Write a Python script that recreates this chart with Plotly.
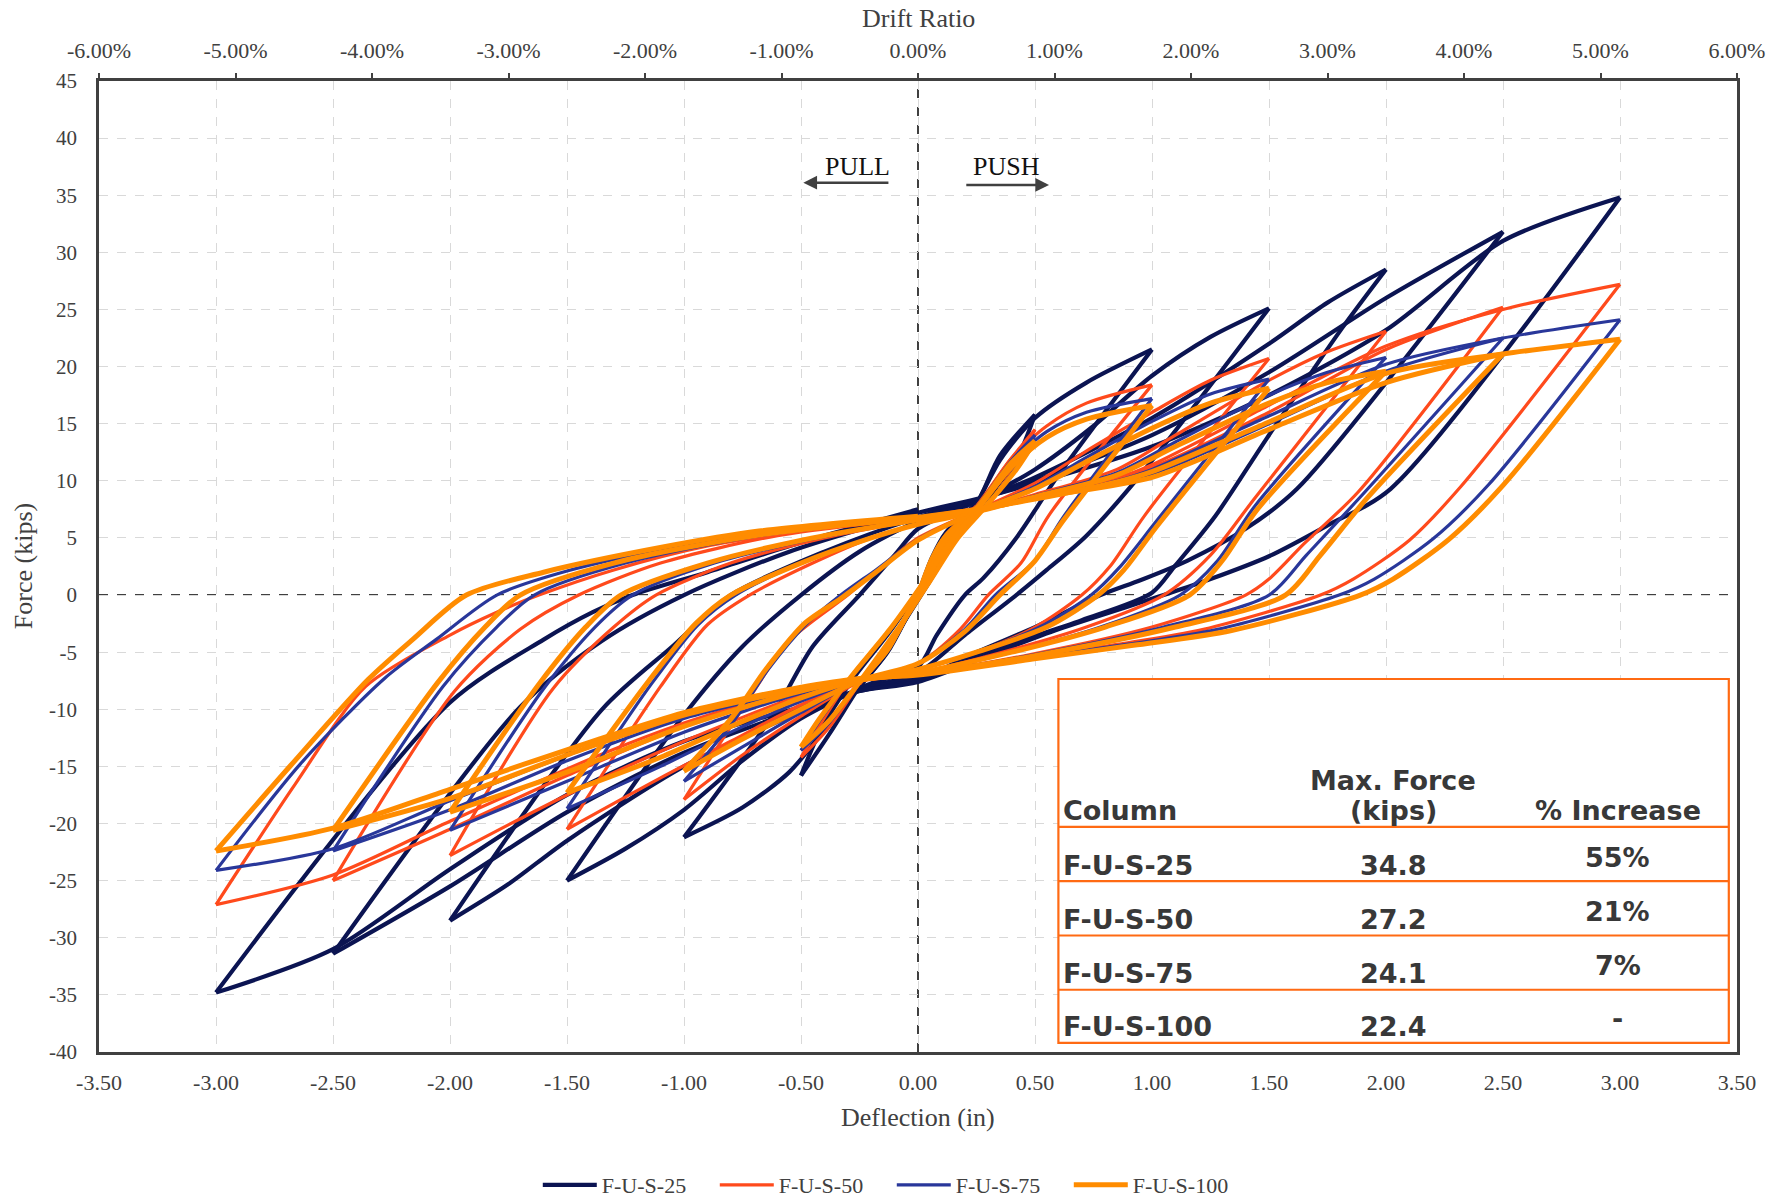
import plotly.graph_objects as go

# ---------------- data (deflection in, force kips) ----------------
series_names = ["F-U-S-25", "F-U-S-50", "F-U-S-75", "F-U-S-100"]
series_colors = ["#0B1452", "#FF4A1C", "#29379A", "#FF8C00"]
series_widths = [4.2, 3.2, 3.2, 5.0]

fus25_pts = [
    [0, 0], [0.06, 3.3], [0.12, 5.5], [0.25, 8.0], [0.15, 5.5], [0.05, 2.0], [-0.05, -2.0], [-0.13, -5.0], [-0.25, -8.0],
    [-0.14, -5.2], [-0.04, -1.6], [0.05, 2.2], [0.14, 5.6], [0.25, 8.0],
    [0.35, 12.2], [0.5, 15.8], [0.42, 11.8], [0.3, 8.6], [0.17, 5.2], [0.05, 1.2], [-0.08, -3.0], [-0.25, -8.0],
    [-0.38, -12.2], [-0.5, -15.8], [-0.42, -12.0], [-0.28, -7.4], [-0.12, -3.2], [0.02, 1.0], [0.15, 5.2], [0.25, 8.0],
    [0.35, 11.8], [0.5, 15.5], [0.72, 18.6], [1.0, 21.5], [0.6, 10.5], [0.42, 5.0], [0.28, 1.5], [0.2, 0], [0.08, -3.5], [0, -6.3], [-0.25, -8.2],
    [-0.4, -11.8], [-0.55, -15.5], [-0.75, -18.6], [-1.0, -21.2], [-0.62, -10.5], [-0.45, -4.5], [-0.25, 0], [-0.1, 3.5], [0, 5.8], [0.25, 8.2],
    [0.5, 11.0], [0.75, 14.8], [1.0, 19.2], [1.25, 22.6], [1.5, 25.1], [0.95, 10.5], [0.72, 5.2], [0.55, 2.2], [0.42, 0], [0.2, -3.5], [0, -6.8], [-0.25, -8.3],
    [-0.5, -10.8], [-0.75, -14.5], [-1.0, -18.8], [-1.25, -22.2], [-1.5, -25.0], [-1.0, -10.5], [-0.75, -4.5], [-0.5, 0], [-0.25, 3.8], [0, 6.5], [0.25, 8.3],
    [0.5, 10.3], [1.0, 15.5], [1.5, 22.0], [1.75, 25.6], [2.0, 28.5], [1.81, 23.3], [1.49, 13.7], [1.27, 6.9], [1.1, 2.6], [1.0, 0.2], [0.7, -2.2], [0.35, -4.6], [0, -7.2], [-0.25, -8.3],
    [-0.5, -10.2], [-1.0, -15.0], [-1.5, -21.5], [-1.75, -25.3], [-2.0, -28.5], [-1.35, -10.0], [-1.05, -4.5], [-0.8, 0], [-0.4, 3.8], [0, 6.8], [0.25, 8.3],
    [0.5, 10.0], [1.0, 14.0], [1.5, 19.5], [2.0, 26.0], [2.5, 31.8], [1.62, 9.3], [1.4, 5.8], [1.15, 3.0], [0.95, 1.3], [0.78, 0], [0.5, -2.8], [0.25, -5.0], [0, -7.4], [-0.25, -8.4],
    [-0.5, -10.0], [-1.0, -13.8], [-1.5, -19.0], [-2.0, -25.5], [-2.5, -31.4], [-1.7, -9.8], [-1.35, -4.0], [-1.0, 0], [-0.55, 3.8], [0, 7.2], [0.25, 8.4],
    [0.5, 9.8], [1.0, 13.0], [1.5, 17.5], [2.0, 23.2], [2.5, 31.0], [3.0, 34.8], [2.02, 9.3], [1.75, 6.1], [1.5, 3.4], [1.25, 1.4], [1.05, 0], [0.6, -3.0], [0.3, -5.3], [0, -7.6], [-0.25, -8.4],
    [-0.5, -9.8], [-1.0, -12.8], [-1.5, -17.5], [-2.0, -24.0], [-2.5, -31.0], [-3.0, -34.8], [-2.0, -9.4], [-1.6, -3.9], [-1.39, -1.5], [-1.22, 0], [-0.9, 2.0], [-0.5, 4.6], [0, 7.5],
]

fus50_pts = [
    [0, 0], [0.06, 3.2], [0.12, 5.3], [0.25, 7.8], [0.15, 5.3], [0.05, 2.0], [-0.05, -1.8], [-0.13, -4.8], [-0.25, -7.8],
    [-0.14, -5.0], [-0.04, -1.5], [0.05, 2.2], [0.14, 5.4], [0.25, 7.8],
    [0.4, 12.0], [0.5, 14.5], [0.42, 11.4], [0.3, 8.0], [0.17, 5.0], [0.05, 1.2], [-0.08, -2.8], [-0.25, -7.7],
    [-0.38, -11.6], [-0.5, -14.2], [-0.42, -11.4], [-0.28, -7.0], [-0.12, -3.0], [0.02, 1.0], [0.15, 5.0], [0.25, 7.6],
    [0.4, 12.0], [0.55, 14.8], [0.72, 16.8], [1.0, 18.4], [0.56, 7.0], [0.44, 2.8], [0.3, 0], [0.18, -3.0], [0, -6.0], [-0.25, -7.6],
    [-0.5, -10.6], [-0.75, -14.0], [-1.0, -17.9], [-0.72, -9.0], [-0.55, -4.0], [-0.3, 0], [-0.16, 2.4], [0, 5.0], [0.25, 7.4],
    [0.5, 9.8], [0.75, 13.0], [1.0, 16.0], [1.25, 18.8], [1.5, 20.7], [0.97, 7.0], [0.82, 2.5], [0.7, 0], [0.5, -2.8], [0.25, -5.0], [0, -6.5], [-0.25, -7.5],
    [-0.5, -9.6], [-0.8, -12.8], [-1.1, -16.0], [-1.5, -20.5], [-1.1, -8.0], [-0.9, -2.6], [-0.72, 0], [-0.45, 2.8], [-0.2, 5.0], [0, 6.2], [0.25, 7.4],
    [0.5, 8.8], [0.85, 11.0], [1.1, 14.0], [1.5, 18.8], [1.75, 21.3], [2.0, 23.1], [1.44, 8.5], [1.25, 3.5], [1.05, 0], [0.72, -2.8], [0.36, -5.0], [0, -6.8], [-0.25, -7.5],
    [-0.5, -8.8], [-1.0, -12.8], [-1.5, -17.5], [-2.0, -22.8], [-1.56, -8.2], [-1.3, -2.8], [-1.12, 0], [-0.8, 2.8], [-0.4, 5.0], [0, 6.6], [0.25, 7.5],
    [0.5, 8.6], [1.0, 11.2], [1.5, 16.0], [2.0, 21.5], [2.5, 25.2], [1.88, 9.0], [1.65, 4.5], [1.5, 1.4], [1.4, 0], [1.0, -2.8], [0.48, -5.2], [0, -6.9], [-0.25, -7.5],
    [-0.5, -8.5], [-1.0, -11.5], [-1.5, -15.8], [-2.0, -20.5], [-2.5, -25.0], [-1.98, -8.4], [-1.7, -3.0], [-1.45, 0], [-1.1, 2.8], [-0.6, 5.2], [0, 6.8], [0.25, 7.6],
    [0.5, 8.5], [0.85, 10.2], [1.0, 11.4], [1.46, 16.2], [2.0, 21.8], [2.5, 25.0], [3.0, 27.2], [2.32, 9.5], [2.1, 4.8], [1.86, 1.4], [1.72, 0], [1.22, -3.0], [0.86, -4.3], [0.46, -5.5], [0, -7.0], [-0.25, -7.4],
    [-0.51, -8.3], [-0.75, -9.6], [-1.0, -11.2], [-1.36, -14.0], [-2.0, -19.8], [-2.5, -24.5], [-3.0, -27.1], [-2.66, -16.5], [-2.36, -8.0], [-2.0, -3.5], [-1.8, -1.5], [-1.62, 0], [-1.3, 2.2], [-0.9, 4.3], [-0.5, 5.6], [0, 6.8],
]

fus75_pts = [
    [0, 0], [0.06, 3.2], [0.12, 5.3], [0.25, 7.7], [0.15, 5.3], [0.05, 2.0], [-0.05, -1.8], [-0.13, -4.8], [-0.25, -7.7],
    [-0.14, -5.0], [-0.04, -1.5], [0.05, 2.2], [0.14, 5.4], [0.25, 7.7],
    [0.4, 11.8], [0.5, 14.0], [0.42, 11.2], [0.3, 8.0], [0.17, 5.0], [0.05, 1.2], [-0.08, -2.8], [-0.25, -7.6],
    [-0.38, -11.2], [-0.5, -13.6], [-0.42, -11.0], [-0.28, -7.0], [-0.12, -3.0], [0.02, 1.0], [0.15, 5.0], [0.25, 7.5],
    [0.4, 11.6], [0.55, 14.3], [0.72, 16.0], [1.0, 17.2], [0.62, 6.8], [0.5, 3.0], [0.33, 0], [0.2, -3.0], [0, -6.0], [-0.25, -7.5],
    [-0.5, -10.3], [-0.75, -13.3], [-1.0, -16.3], [-0.78, -10.8], [-0.64, -6.5], [-0.48, -2.6], [-0.33, 0], [-0.18, 2.2], [0, 4.9], [0.25, 7.3],
    [0.5, 9.5], [0.75, 12.4], [1.0, 15.2], [1.25, 17.6], [1.5, 18.9], [1.02, 6.5], [0.86, 2.4], [0.74, 0], [0.52, -2.8], [0.25, -5.0], [0, -6.5], [-0.25, -7.4],
    [-0.5, -9.3], [-0.8, -12.0], [-1.1, -15.0], [-1.5, -18.7], [-1.14, -7.8], [-0.94, -2.6], [-0.78, 0], [-0.5, 2.8], [-0.2, 5.0], [0, 6.2], [0.25, 7.3],
    [0.5, 8.7], [0.85, 10.7], [1.1, 13.4], [1.5, 17.5], [1.75, 19.5], [2.0, 20.8], [1.44, 7.8], [1.28, 3.0], [1.12, 0], [0.78, -2.8], [0.4, -5.0], [0, -6.8], [-0.25, -7.4],
    [-0.5, -8.6], [-1.0, -12.0], [-1.5, -16.3], [-2.0, -20.6], [-1.6, -8.2], [-1.38, -2.8], [-1.22, 0], [-0.87, 2.8], [-0.43, 5.0], [0, 6.6], [0.25, 7.4],
    [0.5, 8.5], [1.0, 10.6], [1.5, 15.0], [2.0, 19.6], [2.5, 22.5], [1.9, 8.8], [1.66, 3.5], [1.5, 0], [1.05, -2.8], [0.5, -5.2], [0, -6.9], [-0.25, -7.4],
    [-0.5, -8.3], [-1.0, -10.8], [-1.5, -14.5], [-2.0, -18.8], [-2.5, -22.4], [-2.03, -8.0], [-1.8, -2.8], [-1.64, 0], [-1.25, 2.8], [-0.68, 5.2], [0, 6.8], [0.25, 7.5],
    [0.5, 8.4], [0.85, 10.0], [1.0, 11.0], [1.46, 15.3], [2.0, 20.2], [2.5, 22.5], [3.0, 24.1], [2.44, 9.7], [2.2, 4.9], [1.95, 1.4], [1.8, 0], [1.28, -3.0], [0.9, -4.3], [0.48, -5.5], [0, -7.0], [-0.25, -7.3],
    [-0.51, -8.2], [-0.75, -9.3], [-1.0, -10.6], [-1.36, -13.0], [-2.0, -18.0], [-2.5, -22.2], [-3.0, -24.1], [-2.64, -14.8], [-2.28, -7.3], [-2.06, -3.9], [-1.8, 0], [-1.5, 2.1], [-1.02, 4.3], [-0.64, 5.6], [0, 6.8],
]

fus100_pts = [
    [0, 0], [0.06, 3.2], [0.12, 5.2], [0.25, 7.6], [0.15, 5.3], [0.05, 2.0], [-0.05, -1.8], [-0.13, -4.8], [-0.25, -7.6],
    [-0.14, -5.0], [-0.04, -1.5], [0.05, 2.2], [0.14, 5.4], [0.25, 7.6],
    [0.4, 11.6], [0.5, 13.5], [0.42, 11.0], [0.3, 8.0], [0.17, 5.0], [0.05, 1.2], [-0.08, -2.8], [-0.25, -7.6],
    [-0.38, -11.0], [-0.5, -13.3], [-0.42, -10.8], [-0.28, -7.0], [-0.12, -3.0], [0.02, 1.0], [0.15, 5.0], [0.25, 7.4],
    [0.4, 11.2], [0.55, 13.8], [0.72, 15.4], [1.0, 16.6], [0.62, 6.5], [0.5, 3.0], [0.35, 0], [0.2, -3.2], [0, -6.0], [-0.25, -7.5],
    [-0.5, -10.0], [-0.75, -12.6], [-1.0, -15.4], [-0.79, -10.6], [-0.65, -6.5], [-0.48, -2.4], [-0.33, -0.3], [-0.18, 2.0], [0, 4.8], [0.25, 7.3],
    [0.5, 9.3], [0.75, 12.0], [1.0, 14.6], [1.25, 16.8], [1.5, 18.1], [1.02, 6.0], [0.88, 2.2], [0.77, 0], [0.55, -2.8], [0.25, -5.0], [0, -6.5], [-0.25, -7.4],
    [-0.5, -9.0], [-0.8, -11.5], [-1.1, -14.2], [-1.5, -17.3], [-1.15, -7.5], [-0.95, -2.5], [-0.8, 0], [-0.5, 2.8], [-0.2, 5.0], [0, 6.2], [0.25, 7.3],
    [0.5, 8.6], [0.85, 10.5], [1.1, 13.0], [1.5, 16.8], [1.75, 18.6], [2.0, 19.6], [1.45, 7.5], [1.3, 3.0], [1.16, 0], [0.8, -2.8], [0.4, -5.0], [0, -6.8], [-0.25, -7.4],
    [-0.5, -8.4], [-1.0, -11.5], [-1.5, -15.5], [-2.0, -19.0], [-1.62, -7.8], [-1.42, -2.8], [-1.27, 0], [-0.9, 2.8], [-0.45, 5.0], [0, 6.6], [0.25, 7.4],
    [0.5, 8.5], [1.0, 10.3], [1.5, 14.5], [2.0, 18.6], [2.5, 21.1], [1.92, 8.5], [1.72, 3.5], [1.57, 0], [1.1, -2.8], [0.5, -5.3], [0, -6.9], [-0.25, -7.4],
    [-0.5, -8.2], [-1.0, -10.5], [-1.5, -14.0], [-2.0, -17.8], [-2.5, -20.6], [-2.05, -7.6], [-1.85, -2.8], [-1.7, 0], [-1.3, 2.8], [-0.7, 5.2], [0, 6.8], [0.25, 7.5],
    [0.5, 8.4], [0.85, 9.9], [1.0, 10.8], [1.46, 14.8], [2.0, 19.4], [2.5, 21.1], [3.0, 22.4], [2.5, 9.6], [2.27, 4.9], [2.03, 1.4], [1.89, 0], [1.34, -3.1], [0.92, -4.4], [0.49, -5.6], [0, -7.0], [-0.25, -7.3],
    [-0.51, -8.1], [-0.75, -9.1], [-1.0, -10.3], [-1.36, -12.6], [-2.0, -17.0], [-2.5, -20.4], [-3.0, -22.4], [-2.68, -14.9], [-2.35, -7.4], [-2.16, -3.9], [-1.93, 0], [-1.6, 2.0], [-1.09, 4.2], [-0.68, 5.6], [0, 6.9],
]

series_points = [fus25_pts, fus50_pts, fus75_pts, fus100_pts]

# table values
table_header = ["Column", "Max. Force", "(kips)", "% Increase"]
table_columns = ["F-U-S-25", "F-U-S-50", "F-U-S-75", "F-U-S-100"]
table_max_force = ["34.8", "27.2", "24.1", "22.4"]
table_increase = ["55%", "21%", "7%", "-"]

x_ticks = [-3.5 + 0.5 * i for i in range(15)]
drift_ticks = [-0.06 + 0.01 * i for i in range(13)]
y_ticks = list(range(-40, 50, 5))


def split_branches(pts):
    """Split a load path at every reversal of deflection so each branch can be smoothed."""
    branches, cur = [], [pts[0]]
    for i in range(1, len(pts)):
        cur.append(pts[i])
        if i < len(pts) - 1:
            d1 = pts[i][0] - pts[i - 1][0]
            d2 = pts[i + 1][0] - pts[i][0]
            if d1 * d2 < 0:
                branches.append(cur)
                cur = [pts[i]]
    branches.append(cur)
    return branches


# ---------------- figure ----------------
fig = go.Figure()
for name, color, width, pts in zip(series_names, series_colors, series_widths, series_points):
    for k, br in enumerate(split_branches(pts)):
        fig.add_trace(go.Scatter(
            x=[p[0] for p in br], y=[p[1] for p in br], mode="lines", name=name,
            legendgroup=name, showlegend=(k == 0),
            line=dict(color=color, width=width, shape="spline", smoothing=0.8), hoverinfo="skip",
        ))

# dummy trace for the top (drift ratio) axis
fig.add_trace(go.Scatter(x=[-0.06, 0.06], y=[None, None], xaxis="x2", showlegend=False,
                         mode="lines", hoverinfo="skip"))

xtick_font = dict(family="Liberation Serif", size=22, color="#404040")
fig.update_layout(
    width=1770, height=1199,
    margin=dict(l=99, r=33, t=81, b=147, autoexpand=False),
    plot_bgcolor="white", paper_bgcolor="white",
    showlegend=True,
    legend=dict(orientation="h", x=0.484, xanchor="center", y=-0.137, yanchor="middle",
                font=dict(family="Liberation Serif", size=22, color="#404040"),
                itemwidth=54, entrywidth=108, entrywidthmode="pixels", tracegroupgap=0),
    xaxis=dict(range=[-3.5, 3.5], tickvals=x_ticks, ticktext=[f"{v:.2f}" for v in x_ticks],
               showgrid=True, gridcolor="#d9d9d9", griddash="dash", gridwidth=1.3,
               zeroline=False, showline=True, linecolor="#404040", linewidth=2.5, mirror=True,
               ticks="outside", ticklen=9, tickcolor="rgba(0,0,0,0)", tickfont=xtick_font,
               automargin=False),
    xaxis2=dict(range=[-0.06, 0.06], overlaying="x", side="top", tickvals=drift_ticks,
                ticktext=[f"{v * 100:.2f}%" for v in drift_ticks], showgrid=False, zeroline=False,
                ticks="outside", ticklen=7, tickwidth=2, tickcolor="#404040",
                ticklabelstandoff=6, tickfont=xtick_font, automargin=False),
    yaxis=dict(range=[-40, 45], tickvals=y_ticks, ticktext=[str(v) for v in y_ticks],
               showgrid=True, gridcolor="#d9d9d9", griddash="dash", gridwidth=1.3,
               zeroline=False, showline=True, linecolor="#404040", linewidth=2.5, mirror=True,
               ticks="outside", ticklen=15, tickcolor="rgba(0,0,0,0)",
               tickfont=dict(family="Liberation Serif", size=21, color="#404040"), automargin=False),
)

# zero lines (dashed dark)
fig.add_shape(type="line", x0=0, x1=0, y0=-40, y1=45, xref="x", yref="y",
              line=dict(color="#404040", width=2, dash="dash"), layer="below")
fig.add_shape(type="line", x0=-3.5, x1=3.5, y0=0, y1=0, xref="x", yref="y",
              line=dict(color="#404040", width=2, dash="dash"), layer="below")

# axis titles
title_font = dict(family="Liberation Serif", size=26, color="#404040")
fig.add_annotation(text="Deflection (in)", x=0.5, y=-0.067, xref="paper", yref="paper",
                   showarrow=False, font=title_font, yanchor="middle")
fig.add_annotation(text="Force (kips)", x=-0.046, y=0.5, xref="paper", yref="paper",
                   showarrow=False, font=title_font, textangle=-90, xanchor="center")
fig.add_annotation(text="Drift Ratio", x=0.5, y=1.064, xref="paper", yref="paper",
                   showarrow=False, font=title_font, yanchor="middle")

# PULL / PUSH
pp_font = dict(family="Liberation Serif", size=26, color="#111111")
fig.add_annotation(text="PULL", x=-0.26, y=37.5, xref="x", yref="y", showarrow=False, font=pp_font)
fig.add_annotation(text="PUSH", x=0.38, y=37.5, xref="x", yref="y", showarrow=False, font=pp_font)
fig.add_annotation(x=-0.49, y=36.1, ax=-0.12, ay=36.1, xref="x", yref="y", axref="x", ayref="y",
                   showarrow=True, arrowhead=2, arrowsize=1.1, arrowwidth=2.5, arrowcolor="#404040", text="")
fig.add_annotation(x=0.56, y=35.9, ax=0.2, ay=35.9, xref="x", yref="y", axref="x", ayref="y",
                   showarrow=True, arrowhead=2, arrowsize=1.1, arrowwidth=2.5, arrowcolor="#404040", text="")

# table box
tcol = "#FF6A13"
fig.add_shape(type="rect", x0=0.6, x1=3.465, y0=-39.2, y1=-7.35, xref="x", yref="y",
              line=dict(color=tcol, width=2.2), fillcolor="white", layer="above")
for yy in [-20.3, -25.05, -29.8, -34.55]:
    fig.add_shape(type="line", x0=0.6, x1=3.465, y0=yy, y1=yy, xref="x", yref="y",
                  line=dict(color=tcol, width=2.2), layer="above")

tfont = dict(family="DejaVu Sans", size=27, color="#383838")
fig.add_annotation(text="<b>" + table_header[0] + "</b>", x=0.61, y=-18.9, xref="x", yref="y",
                   showarrow=False, font=tfont, xanchor="left", yanchor="middle")
fig.add_annotation(text="<b>" + table_header[1] + "</b>", x=2.03, y=-16.2, xref="x", yref="y",
                   showarrow=False, font=tfont, xanchor="center", yanchor="middle")
fig.add_annotation(text="<b>" + table_header[2] + "</b>", x=2.03, y=-18.9, xref="x", yref="y",
                   showarrow=False, font=tfont, xanchor="center", yanchor="middle")
fig.add_annotation(text="<b>" + table_header[3] + "</b>", x=2.99, y=-18.9, xref="x", yref="y",
                   showarrow=False, font=tfont, xanchor="center", yanchor="middle")
row_y = [-23.7, -28.4, -33.1, -37.8]
for cname, mf, inc, yy in zip(table_columns, table_max_force, table_increase, row_y):
    fig.add_annotation(text="<b>" + cname + "</b>", x=0.61, y=yy, xref="x", yref="y",
                       showarrow=False, font=tfont, xanchor="left", yanchor="middle")
    fig.add_annotation(text="<b>" + mf + "</b>", x=2.03, y=yy, xref="x", yref="y",
                       showarrow=False, font=tfont, xanchor="center", yanchor="middle")
    fig.add_annotation(text="<b>" + inc + "</b>", x=2.99, y=yy + 0.7, xref="x", yref="y",
                       showarrow=False, font=tfont, xanchor="center", yanchor="middle")

fig.write_html("out.html", config={"displayModeBar": False},
               post_script="document.body.style.margin='0px';document.body.style.overflow='hidden';")
